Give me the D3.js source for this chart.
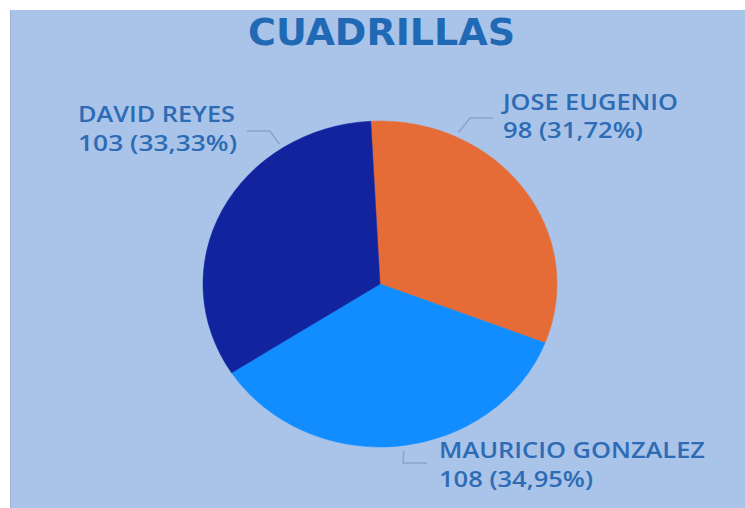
<!DOCTYPE html>
<html>
<head>
<meta charset="utf-8">
<script src="https://cdn.jsdelivr.net/npm/d3@7"></script>
<style>
  html, body { margin: 0; padding: 0; background: #ffffff; }
  svg { display: block; }
</style>
</head>
<body>
<svg id="chart" width="745" height="508"></svg>
<script>
// Crew totals
const categories = ["JOSE EUGENIO", "MAURICIO GONZALEZ", "DAVID REYES"];
const values = [98, 108, 103];
const percentLabels = ["31,72%", "34,95%", "33,33%"];
const sliceColors = ["#E66C37", "#118DFF", "#12239E"];
const title = "CUADRILLAS";

const W = 745, H = 508;
const svg = d3.select("#chart");

// panel background
svg.append("rect")
  .attr("x", 10).attr("y", 10)
  .attr("width", W - 10).attr("height", H - 10)
  .attr("fill", "#A9C3E9");
svg.append("line")
  .attr("x1", 10.5).attr("x2", 10.5).attr("y1", 10).attr("y2", H)
  .attr("stroke", "#9DB3D8").attr("stroke-width", 1);

// title
svg.append("text")
  .attr("x", 248).attr("y", 45)
  .attr("textLength", 267).attr("lengthAdjust", "spacingAndGlyphs")
  .attr("font-family", "'DejaVu Sans Condensed', 'DejaVu Sans', sans-serif")
  .attr("font-weight", "bold")
  .attr("font-size", 37)
  .attr("fill", "#1F69B5")
  .text(title);

// pie geometry (drawn slightly wider than tall)
const cx = 380, cy = 284, ry = 163, rx = 177;
const startAngle = -3 * Math.PI / 180;

const pie = d3.pie()
  .sort(null)
  .value(d => d.value)
  .startAngle(startAngle)
  .endAngle(startAngle + 2 * Math.PI);

const data = categories.map((c, i) => ({
  name: c, value: values[i], pct: percentLabels[i], color: sliceColors[i]
}));
const arcs = pie(data);
const arc = d3.arc().innerRadius(0).outerRadius(ry);

const g = svg.append("g")
  .attr("transform", `translate(${cx},${cy}) scale(${rx / ry},1)`);

g.selectAll("path.slice")
  .data(arcs)
  .join("path")
  .attr("class", "slice")
  .attr("d", arc)
  .attr("fill", d => d.data.color)
  .attr("stroke", d => d.data.color)
  .attr("stroke-width", 0.5);

// label layout: rim angle (deg, clockwise from top) for leader start,
// leader elbow points and text block placement
const labelLayout = {
  "JOSE EUGENIO": {
    rim: 25.5, elbow: [[470, 118], [493, 118]],
    x: 503, y1: 110, y2: 138, w1: 175, w2: 140
  },
  "MAURICIO GONZALEZ": {
    rim: 172.5, elbow: [[403, 463], [427, 463]],
    x: 439, y1: 458, y2: 487, w1: 266, w2: 154
  },
  "DAVID REYES": {
    rim: 326.5, elbow: [[270, 131], [247, 131]],
    x: 78, y1: 122, y2: 151, w1: 157, w2: 159
  }
};

const textColor = "#2D6CB4";
const rimPoint = deg => {
  const a = deg * Math.PI / 180;
  return [cx + rx * 1.03 * Math.sin(a), cy - ry * 1.03 * Math.cos(a)];
};

const labels = svg.append("g");
arcs.forEach(a => {
  const L = labelLayout[a.data.name];
  const pts = [rimPoint(L.rim), ...L.elbow];
  labels.append("path")
    .attr("d", d3.line()(pts))
    .attr("fill", "none")
    .attr("stroke", "#8AA4CB")
    .attr("stroke-width", 1.5);

  const t = labels.append("text")
    .attr("font-family", "'Open Sans', 'Noto Sans', sans-serif")
    .attr("font-weight", 600)
    .attr("font-size", 21)
    .attr("fill", textColor);
  t.append("tspan")
    .attr("x", L.x).attr("y", L.y1)
    .attr("textLength", L.w1).attr("lengthAdjust", "spacingAndGlyphs")
    .text(a.data.name);
  t.append("tspan")
    .attr("x", L.x).attr("y", L.y2)
    .attr("textLength", L.w2).attr("lengthAdjust", "spacingAndGlyphs")
    .text(`${a.data.value} (${a.data.pct})`);
});
</script>
</body>
</html>
